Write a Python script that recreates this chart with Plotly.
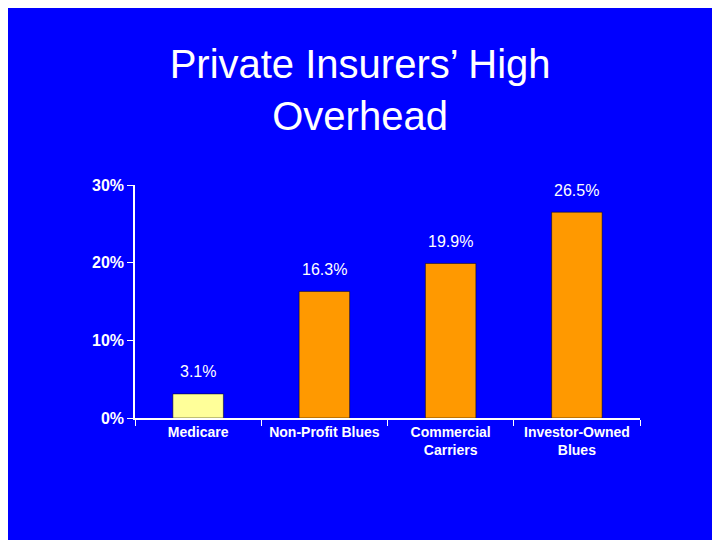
import plotly.graph_objects as go

categories = ["Medicare", "Non-Profit Blues", "Commercial<br>Carriers", "Investor-Owned<br>Blues"]
values = [3.1, 16.3, 19.9, 26.5]
labels = ["3.1%", "16.3%", "19.9%", "26.5%"]
colors = ["#FFFF99", "#FF9900", "#FF9900", "#FF9900"]

fig = go.Figure(go.Bar(x=categories, y=values, marker=dict(color=colors, line=dict(color="#000000", width=0.5)), width=0.4))
for c, v, t in zip(categories, values, labels):
    fig.add_annotation(x=c, y=v, text=t, showarrow=False, yshift=22,
                       font=dict(family="Liberation Sans, Arial", size=16, color="white"))
fig.update_layout(
    width=720, height=540, paper_bgcolor="#0000FF", plot_bgcolor="#0000FF",
    margin=dict(l=127, r=88, t=177, b=130), showlegend=False,
    title=dict(text="Private Insurers’ High<br>Overhead", x=0.489, xanchor="center", y=0.87, yanchor="top",
               font=dict(family="Liberation Sans, Arial", size=40, color="white")),
    font=dict(family="Liberation Sans, Arial", color="white"),
)
fig.update_xaxes(showline=True, linecolor="white", linewidth=1.5, ticks="outside", tickson="boundaries",
                 tickcolor="white", ticklen=6, tickfont=dict(size=14, family="Liberation Sans", color="white"))
fig.update_yaxes(range=[0, 30], tickvals=[0, 10, 20, 30], ticktext=["<b>0%</b>", "<b>10%</b>", "<b>20%</b>", "<b>30%</b>"],
                 showline=True, linecolor="white", linewidth=1.5, ticks="outside", tickcolor="white", ticklen=6,
                 showgrid=False, zeroline=False, tickfont=dict(size=16, color="white"))
fig.update_xaxes(ticktext=["<b>" + c + "</b>" for c in categories], tickvals=categories)
fig.write_html("out.html")
